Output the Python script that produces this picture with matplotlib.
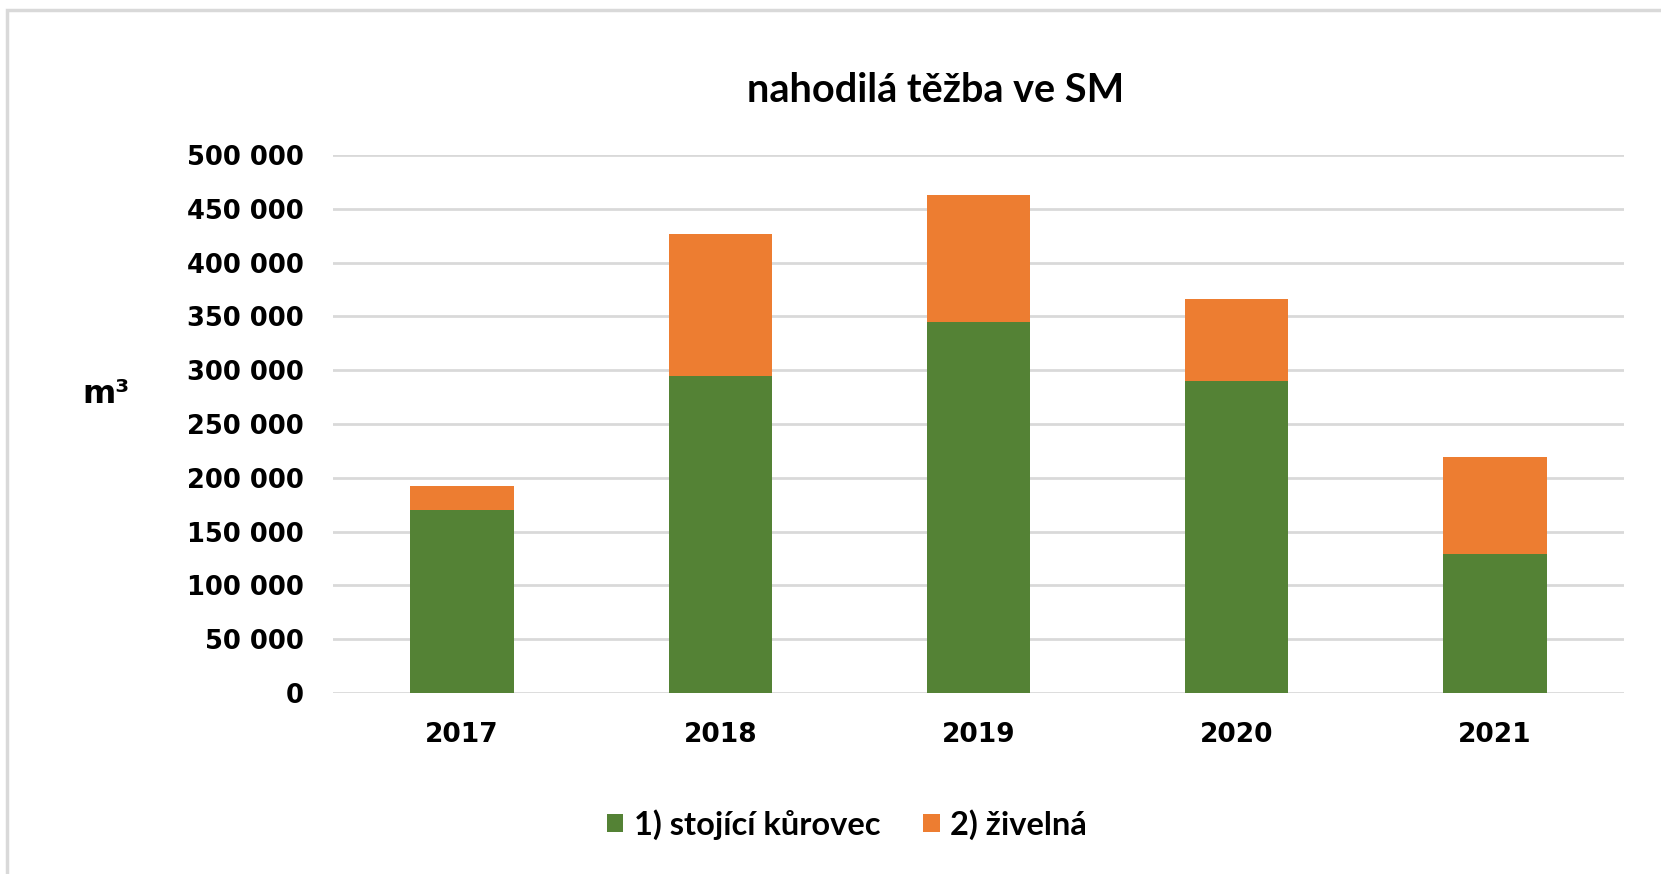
import matplotlib
matplotlib.use('Agg')
import matplotlib.pyplot as plt
from matplotlib.ticker import FuncFormatter, MultipleLocator
from matplotlib.patches import Rectangle
import numpy as np

years = ['2017', '2018', '2019', '2020', '2021']
kurovec = [170000, 295000, 345000, 290000, 129000]
zivelna = [22500, 132000, 118000, 76000, 90000]
labels = ['1) stojící kůrovec', '2) živelná']

green = '#548235'
orange = '#ED7D31'
grid_c = '#D9D9D9'

fig = plt.figure(figsize=(16.61, 8.74), dpi=100)
ax = fig.add_axes([0.2005, 0.2071, 0.7772, 0.6156])

x = np.arange(len(years))
w = 0.4
ax.bar(x, kurovec, w, color=green, label=labels[0], zorder=3)
ax.bar(x, zivelna, w, bottom=kurovec, color=orange, label=labels[1], zorder=3)

ax.set_xlim(-0.5, len(years) - 0.5)
ax.set_ylim(0, 500000)
ax.yaxis.set_major_locator(MultipleLocator(50000))
ax.yaxis.set_major_formatter(FuncFormatter(lambda v, p: '{:,.0f}'.format(v).replace(',', ' ')))
ax.grid(axis='y', color=grid_c, linewidth=2, zorder=0)
ax.set_xticks(x)
ax.set_xticklabels(years)
for s in ax.spines.values():
    s.set_visible(False)
ax.tick_params(length=0)
ax.tick_params(axis='y', pad=21)
ax.tick_params(axis='x', pad=21)
for t in ax.get_yticklabels():
    t.set_fontfamily('DejaVu Sans')
    t.set_fontweight('bold')
    t.set_fontsize(18.5)
for t in ax.get_xticklabels():
    t.set_fontfamily('DejaVu Sans')
    t.set_fontweight('bold')
    t.set_fontsize(19)

fig.text(0.064, 0.549, 'm³', fontsize=23, fontweight='bold', family='DejaVu Sans',
         ha='center', va='center')
fig.text(0.563, 0.896, 'nahodilá těžba ve SM', fontsize=28.5, fontweight='bold',
         family='Lato', ha='center', va='center')

leg = fig.legend(loc='center', bbox_to_anchor=(0.51, 0.057), ncol=2, frameon=False,
                 prop={'family': 'Lato', 'weight': 'bold', 'size': 23.5},
                 handlelength=0.5, handleheight=0.5, handletextpad=0.33, columnspacing=1.3)

# light frame of the chart area
fig.patches.append(Rectangle((7 / 1661, -0.1), 1.2, 1 - 10 / 874 + 0.1,
                             transform=fig.transFigure, fill=False,
                             edgecolor=grid_c, linewidth=2.5))

fig.savefig('out.png', dpi=100)
